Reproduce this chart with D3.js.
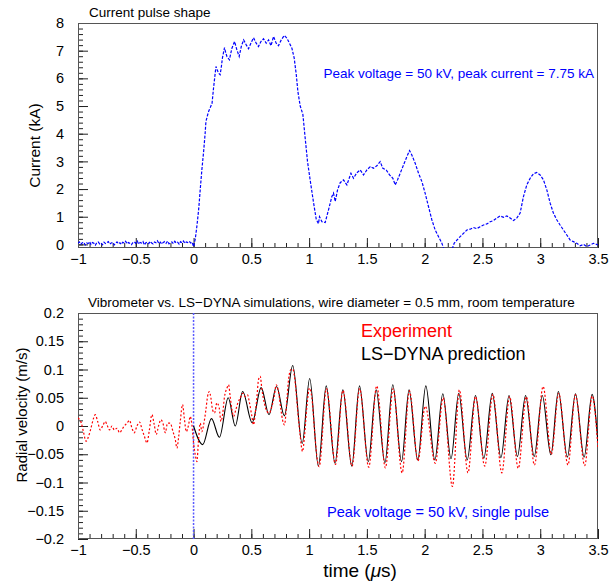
<!DOCTYPE html>
<html><head><meta charset="utf-8">
<script src="https://cdn.jsdelivr.net/npm/d3@7"></script>
<style>
body{margin:0;background:#fff;}
svg{display:block;font-family:"Liberation Sans",Arial,sans-serif;}
</style></head>
<body><svg id="c" width="610" height="584"></svg>
<script>
// ---------- data ----------
const xTicksMajor = [-1, -0.5, 0, 0.5, 1, 1.5, 2, 2.5, 3, 3.5];
const currentTicks = [0, 1, 2, 3, 4, 5, 6, 7, 8];
const velocityTicks = [-0.2, -0.15, -0.1, -0.05, 0, 0.05, 0.1, 0.15, 0.2];

// current pulse [time us, current kA]
const currentBaseline = [
[-1,0.04],[-0.9875,0.09],[-0.975,0.01],[-0.9625,0.06],[-0.95,0.08],[-0.9375,-0.02],[-0.925,0.05],[-0.9125,0.03],
[-0.9,0.10],[-0.8875,0.00],[-0.875,0.07],[-0.8625,0.04],[-0.85,-0.03],[-0.8375,0.06],[-0.825,0.09],[-0.8125,0.02],
[-0.8,0.05],[-0.7875,-0.01],[-0.775,0.08],[-0.7625,0.03],[-0.75,0.06],[-0.7375,0.10],[-0.725,0.01],[-0.7125,0.05],
[-0.7,0.07],[-0.6875,-0.02],[-0.675,0.04],[-0.6625,0.09],[-0.65,0.02],[-0.6375,0.06],[-0.625,0.00],[-0.6125,0.08],
[-0.6,0.05],[-0.5875,0.11],[-0.575,0.02],[-0.5625,0.07],[-0.55,0.03],[-0.5375,-0.01],[-0.525,0.06],[-0.5125,0.09],
[-0.5,0.04],[-0.4875,0.12],[-0.475,0.01],[-0.4625,0.07],[-0.45,0.05],[-0.4375,0.10],[-0.425,-0.02],[-0.4125,0.06],
[-0.4,0.08],[-0.3875,0.03],[-0.375,0.11],[-0.3625,0.05],[-0.35,0.02],[-0.3375,0.09],[-0.325,0.06],[-0.3125,0.13],
[-0.3,0.03],[-0.2875,0.08],[-0.275,0.01],[-0.2625,0.07],[-0.25,0.10],[-0.2375,0.04],[-0.225,0.12],[-0.2125,0.02],
[-0.2,0.06],[-0.1875,0.09],[-0.175,0.03],[-0.1625,0.11],[-0.15,0.05],[-0.1375,0.08],[-0.125,0.01],[-0.1125,0.10],
[-0.1,0.06],[-0.0875,0.12],[-0.075,0.04],[-0.0625,0.09],[-0.05,0.07],[-0.0375,0.11],[-0.025,0.05],[-0.0125,0.08]];
const currentPulse = [
[0.00,-0.08],[0.015,0.2],[0.03,0.7],[0.045,1.3],[0.058,2.0],[0.072,2.7],[0.087,3.35],[0.1,4.0],[0.107,4.44],
[0.12,4.65],[0.13,4.8],[0.145,4.95],[0.16,5.1],[0.173,5.65],[0.185,6.1],[0.194,6.43],[0.205,6.3],[0.216,6.19],
[0.23,6.13],[0.24,6.4],[0.25,6.74],[0.268,7.11],[0.28,6.9],[0.289,6.79],[0.31,6.67],[0.322,6.9],[0.332,7.09],
[0.355,7.33],[0.375,7.03],[0.395,6.79],[0.413,7.15],[0.433,7.39],[0.456,7.21],[0.476,7.07],[0.496,7.27],
[0.519,7.47],[0.542,7.27],[0.562,7.15],[0.583,7.33],[0.605,7.43],[0.629,7.27],[0.649,7.39],[0.67,7.18],
[0.692,7.51],[0.715,7.27],[0.735,7.18],[0.759,7.39],[0.785,7.55],[0.808,7.45],[0.83,7.27],[0.851,7.09],
[0.871,6.73],[0.889,6.13],[0.903,5.52],[0.923,5.0],[0.946,4.7],[0.966,3.84],[0.986,3.0],[1.01,2.3],
[1.038,1.52],[1.062,0.9],[1.081,0.75],[1.09,1.0],[1.111,0.82],[1.139,0.79],[1.168,1.25],[1.197,1.73],
[1.211,1.85],[1.226,1.55],[1.246,1.97],[1.269,2.23],[1.298,2.33],[1.327,2.15],[1.362,2.57],[1.384,2.39],
[1.413,2.59],[1.442,2.69],[1.471,2.51],[1.5,2.69],[1.529,2.81],[1.557,2.75],[1.586,2.84],[1.615,2.99],
[1.638,2.75],[1.667,2.69],[1.696,2.51],[1.725,2.39],[1.745,2.15],[1.765,2.33],[1.794,2.63],[1.823,2.93],
[1.846,3.17],[1.869,3.39],[1.889,3.23],[1.918,2.93],[1.947,2.57],[1.976,2.27],[2.004,1.85],[2.033,1.37],
[2.062,0.89],[2.091,0.52],[2.12,0.28],[2.149,0.04],[2.169,-0.2],[2.2,-0.3],[2.235,-0.2],[2.255,0.04],
[2.28,0.16],[2.307,0.28],[2.336,0.4],[2.365,0.52],[2.394,0.55],[2.422,0.61],[2.451,0.57],[2.48,0.64],
[2.509,0.7],[2.538,0.74],[2.567,0.82],[2.595,0.86],[2.624,0.95],[2.653,1.03],[2.682,0.98],[2.711,1.03],
[2.74,0.95],[2.768,0.86],[2.797,0.95],[2.826,1.13],[2.855,1.73],[2.884,2.15],[2.913,2.39],[2.941,2.55],
[2.97,2.6],[2.999,2.51],[3.028,2.33],[3.057,1.97],[3.086,1.49],[3.114,1.13],[3.143,0.89],[3.172,0.7],
[3.201,0.52],[3.23,0.34],[3.259,0.16],[3.287,0.1],[3.316,0.04],[3.345,-0.05],[3.374,0.0],[3.403,-0.08],
[3.432,-0.02],[3.461,0.04],[3.5,-0.02]];

// experiment (vibrometer) [time us, velocity m/s]
const experimentEarly = [
[-1.0,0.014],[-0.971,0.005],[-0.951,-0.012],[-0.931,-0.027],[-0.908,-0.018],[-0.888,-0.004],[-0.865,0.014],
[-0.85,0.02],[-0.83,0.008],[-0.807,-0.007],[-0.787,0.0],[-0.764,0.008],[-0.749,0.002],[-0.727,-0.007],
[-0.706,0.0],[-0.686,-0.007],[-0.663,-0.004],[-0.64,-0.012],[-0.619,-0.006],[-0.6,0.0],[-0.576,0.005],
[-0.554,0.01],[-0.533,-0.004],[-0.513,-0.012],[-0.49,0.0],[-0.467,0.007],[-0.446,-0.006],[-0.426,-0.018],
[-0.403,-0.03],[-0.383,-0.008],[-0.36,0.02],[-0.34,0.002],[-0.323,-0.015],[-0.303,0.0],[-0.282,0.011],
[-0.265,0.005],[-0.245,-0.012],[-0.225,0.005],[-0.202,0.005],[-0.178,-0.01],[-0.158,-0.024],[-0.144,-0.039],
[-0.13,-0.021],[-0.115,0.008],[-0.095,0.038],[-0.08,0.014],[-0.063,-0.01],[-0.043,0.002],[-0.029,0.017],
[-0.014,0.002],[0.0,-0.03],[0.015,-0.051],[0.029,-0.063],[0.043,-0.024],[0.058,0.005],[0.072,-0.01],
[0.087,0.002],[0.107,0.029],[0.121,0.052],[0.136,0.061],[0.15,0.05],[0.164,0.029],[0.182,0.023],[0.202,0.041],
[0.222,0.032],[0.237,0.008],[0.251,0.02],[0.268,0.052],[0.289,0.067],[0.303,0.073],[0.317,0.052],[0.332,0.029],
[0.346,0.017],[0.366,0.029],[0.384,0.041],[0.404,0.05],[0.427,0.058],[0.447,0.052],[0.467,0.055],[0.484,0.041],
[0.505,0.017],[0.519,0.002],[0.534,0.023],[0.548,0.05],[0.562,0.082],[0.577,0.088],[0.592,0.064],[0.612,0.041],
[0.635,0.026],[0.655,0.023],[0.678,0.035],[0.698,0.052],[0.715,0.073],[0.735,0.061],[0.756,0.029],[0.77,0.011],
[0.787,0.002],[0.808,0.047],[0.822,0.082],[0.843,0.1],[0.86,0.1],[0.88,0.076],[0.903,0.023],[0.923,-0.018],
[0.943,-0.045],[0.96,-0.018],[0.981,0.035],[1.003,0.067],[1.024,0.05],[1.044,0.0],[1.067,-0.054],[1.087,-0.072]];
const experimentLate = [
[1.15,0.066],[1.228,-0.068],[1.293,0.063],[1.372,-0.071],[1.437,0.066],[1.516,-0.073],[1.585,0.071],
[1.66,-0.074],[1.727,0.066],[1.805,-0.083],[1.868,0.062],[1.942,-0.062],[2.005,0.035],[2.092,-0.066],
[2.16,0.050],[2.24,-0.107],[2.30,0.064],[2.375,-0.083],[2.44,0.052],[2.52,-0.071],[2.59,0.056],[2.668,-0.083],
[2.735,0.052],[2.81,-0.075],[2.88,0.052],[2.95,-0.069],[3.025,0.070],[3.096,-0.050],[3.16,0.058],[3.24,-0.069],
[3.305,0.055],[3.385,-0.070],[3.45,0.053],[3.5,-0.04]];

// LS-DYNA prediction [time us, velocity m/s]
const lsdyna = [
[0,0],[0.079,-0.033],[0.155,0.013],[0.224,-0.02],[0.3,0.05],[0.361,0.0],[0.425,0.061],[0.507,0.006],
[0.585,0.068],[0.653,0.02],[0.718,0.07],[0.786,0.018],[0.858,0.107],[0.94,-0.031],[1.005,0.084],[1.080,-0.071],
[1.148,0.071],[1.224,-0.066],[1.292,0.064],[1.369,-0.071],[1.436,0.071],[1.512,-0.063],[1.580,0.064],
[1.656,-0.065],[1.724,0.073],[1.800,-0.063],[1.865,0.064],[1.940,-0.060],[2.010,0.071],[2.088,-0.060],
[2.157,0.057],[2.228,-0.058],[2.295,0.058],[2.368,-0.060],[2.440,0.054],[2.512,-0.057],[2.585,0.058],
[2.660,-0.056],[2.730,0.054],[2.803,-0.054],[2.873,0.054],[2.948,-0.054],[3.018,0.054],[3.092,-0.051],
[3.157,0.061],[3.235,-0.055],[3.305,0.057],[3.380,-0.055],[3.449,0.056],[3.5,-0.030]];

// ---------- layout ----------
const svg = d3.select("#c");
const L = 78, R = 598;
const top1 = 23, bot1 = 248, top2 = 313, bot2 = 539;
const x = d3.scaleLinear().domain([-1, 3.5]).range([L, R]);
const y1 = d3.scaleLinear().domain([-0.13, 8]).range([bot1, top1]);
const y2 = d3.scaleLinear().domain([-0.2, 0.2]).range([bot2, top2]);
const fmt = d => d3.format("~g")(d);
const FONT = '"Liberation Sans",Arial,sans-serif';

function panel(y, yTicks, yMinorStep, id, ytop, ybot) {
  const g = svg.append("g");
  svg.append("clipPath").attr("id", id).append("rect")
    .attr("x", L).attr("y", ytop).attr("width", R - L).attr("height", ybot - ytop);
  const xMinor = d3.range(-10, 36).map(i => i / 10);
  g.append("g").attr("transform", `translate(0,${ybot})`)
    .call(d3.axisBottom(x).tickValues(xMinor).tickSize(-5).tickFormat(""))
    .call(a => a.select(".domain").remove());
  g.append("g").attr("transform", `translate(0,${ybot})`)
    .call(d3.axisBottom(x).tickValues(xTicksMajor).tickSize(-10).tickPadding(6).tickFormat(fmt))
    .call(a => a.select(".domain").remove())
    .call(a => a.selectAll("text").attr("font-size", 14.5).attr("font-family", FONT).attr("fill", "#000"));
  const y0 = yTicks[0], yN = yTicks[yTicks.length - 1];
  const n = Math.round((yN - y0) / yMinorStep);
  const yMinor = d3.range(0, n + 1).map(i => y0 + i * yMinorStep);
  g.append("g").attr("transform", `translate(${L},0)`)
    .call(d3.axisLeft(y).tickValues(yMinor).tickSize(-5).tickFormat(""))
    .call(a => a.select(".domain").remove());
  g.append("g").attr("transform", `translate(${L},0)`)
    .call(d3.axisLeft(y).tickValues(yTicks).tickSize(-10).tickPadding(14).tickFormat(fmt))
    .call(a => a.select(".domain").remove())
    .call(a => a.selectAll("text").attr("font-size", 14.5).attr("font-family", FONT).attr("fill", "#000"));
  g.selectAll(".tick line").attr("stroke", "#222");
  g.append("rect").attr("x", L + 0.5).attr("y", ytop + 0.5)
    .attr("width", R - L - 1).attr("height", ybot - ytop - 1)
    .attr("fill", "none").attr("stroke", "#555").attr("stroke-width", 1);
  return g;
}

// ---------- top panel ----------
const g1 = panel(y1, currentTicks, 0.2, "clip1", top1, bot1);
const line1 = d3.line().x(d => x(d[0])).y(d => y1(d[1]));
g1.append("path").datum(currentBaseline.concat(currentPulse))
  .attr("clip-path", "url(#clip1)")
  .attr("d", line1).attr("fill", "none").attr("stroke", "#0000ff")
  .attr("stroke-width", 1.2).attr("stroke-dasharray", "3,1.5");

svg.append("text").attr("x", 89).attr("y", 17).attr("font-size", 13.5).text("Current pulse shape");
svg.append("text").attr("x", 594).attr("y", 78).attr("text-anchor", "end")
  .attr("font-size", 13.5).attr("fill", "#0000ff")
  .text("Peak voltage = 50 kV, peak current = 7.75 kA");
svg.append("text").attr("transform", "translate(40,145.5) rotate(-90)")
  .attr("text-anchor", "middle").attr("font-size", 15.5).text("Current (kA)");

// ---------- bottom panel ----------
const g2 = panel(y2, velocityTicks, 0.01, "clip2", top2, bot2);
g2.append("line").attr("x1", x(0)).attr("x2", x(0)).attr("y1", top2).attr("y2", bot2)
  .attr("stroke", "#5a5aff").attr("stroke-width", 1.5).attr("stroke-dasharray", "2,1.5");
const line2 = d3.line().x(d => x(d[0])).y(d => y2(d[1])).curve(d3.curveMonotoneX);
g2.append("path").datum(lsdyna).attr("clip-path", "url(#clip2)")
  .attr("d", line2).attr("fill", "none").attr("stroke", "#000").attr("stroke-width", 1.1);
g2.append("path").datum(experimentEarly.concat(experimentLate)).attr("clip-path", "url(#clip2)")
  .attr("d", line2).attr("fill", "none").attr("stroke", "#ff0000")
  .attr("stroke-width", 1.2).attr("stroke-dasharray", "2,2");

svg.append("text").attr("x", 88).attr("y", 307).attr("font-size", 13.5)
  .text("Vibrometer vs. LS\u2212DYNA simulations, wire diameter = 0.5 mm, room temperature");
svg.append("text").attr("x", 361).attr("y", 337).attr("font-size", 18).attr("fill", "#ff0000").text("Experiment");
svg.append("text").attr("x", 361).attr("y", 359.5).attr("font-size", 18).attr("fill", "#000").text("LS\u2212DYNA prediction");
svg.append("text").attr("x", 327).attr("y", 517).attr("font-size", 14.6).attr("fill", "#0000ff")
  .text("Peak voltage = 50 kV, single pulse");
svg.append("text").attr("transform", "translate(27,415) rotate(-90)")
  .attr("text-anchor", "middle").attr("font-size", 15).text("Radial velocity (m/s)");
const xl = svg.append("text").attr("x", 360).attr("y", 577).attr("text-anchor", "middle").attr("font-size", 19);
xl.append("tspan").text("time (");
xl.append("tspan").attr("font-style", "italic").text("\u03bc");
xl.append("tspan").text("s)");
</script></body></html>
